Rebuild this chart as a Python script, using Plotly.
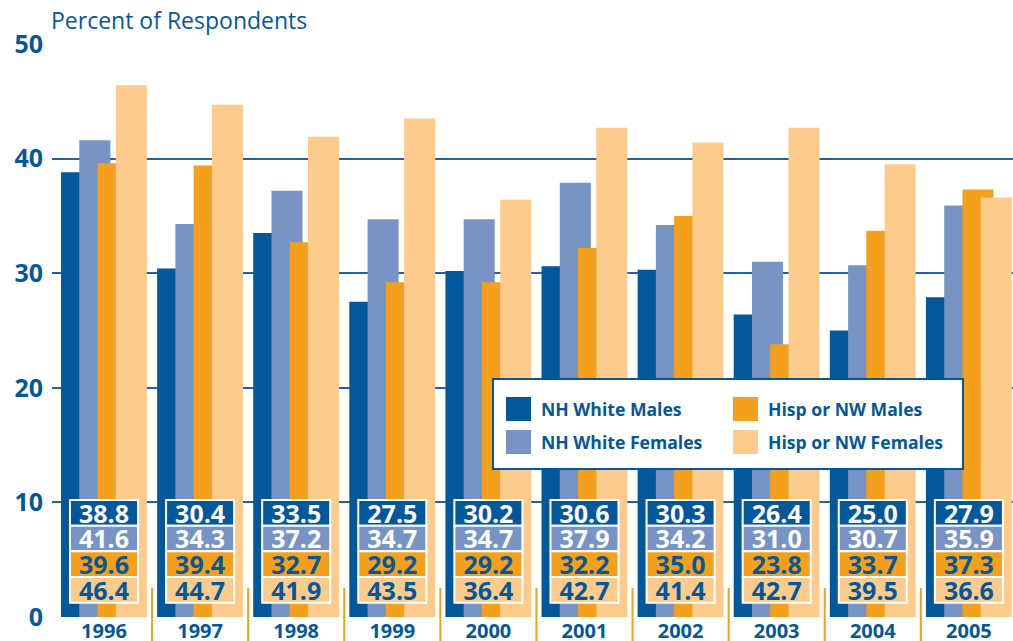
import plotly.graph_objects as go

years = [1996, 1997, 1998, 1999, 2000, 2001, 2002, 2003, 2004, 2005]
series_names = ["NH White Males", "NH White Females", "Hisp or NW Males", "Hisp or NW Females"]
nh_white_males = [38.8, 30.4, 33.5, 27.5, 30.2, 30.6, 30.3, 26.4, 25.0, 27.9]
nh_white_females = [41.6, 34.3, 37.2, 34.7, 34.7, 37.9, 34.2, 31.0, 30.7, 35.9]
hisp_nw_males = [39.6, 39.4, 32.7, 29.2, 29.2, 32.2, 35.0, 23.8, 33.7, 37.3]
hisp_nw_females = [46.4, 44.7, 41.9, 43.5, 36.4, 42.7, 41.4, 42.7, 39.5, 36.6]
y_ticks = [0, 10, 20, 30, 40, 50]

DARK = "#03579b"
GRID = "#1f63a5"
colors = [DARK, "#7794c4", "#f5a01d", "#fdcb8b"]
label_colors = ["white", "white", DARK, DARK]
series = [nh_white_males, nh_white_females, hisp_nw_males, hisp_nw_females]
FONT = "Open Sans"

W, H = 1013, 641
L, R, T, B = 52, 0, 44, 24
plot_w, plot_h = W - L - R, H - T - B


def px_x(p):
    return (p - L) / plot_w


def px_y(p):
    return (H - B - p) / plot_h


fig = go.Figure()

# overlapping bars, each series shifted right and drawn over the previous one
bar_w = 0.323
step = 0.19
start = -0.447
for k, (name, vals, col) in enumerate(zip(series_names, series, colors)):
    fig.add_bar(x=years, y=vals, name=name, marker_color=col, marker_line_width=0,
                width=bar_w, offset=start + k * step, showlegend=False)

# value table inside each group: stacked rows, top row = first series
row_h = 2.24
box_bottom = 1.25
box_w = 0.708
for k, (vals, col, tcol) in enumerate(zip(series, colors, label_colors)):
    base = box_bottom + (3 - k) * row_h
    fig.add_bar(x=years, y=[row_h] * len(years), base=base, width=box_w,
                marker=dict(color=col, line=dict(color="white", width=2)),
                text=[f"{v:.1f}" for v in vals], textposition="inside",
                insidetextanchor="middle", textangle=0, constraintext="none",
                textfont=dict(family=FONT, size=25, color=tcol, weight="bold"),
                showlegend=False, hoverinfo="skip")

# orange separators between year groups
for yr in years[:-1]:
    fig.add_shape(type="line", xref="x", yref="paper", x0=yr + 0.5, x1=yr + 0.5,
                  y0=px_y(H + 2), y1=px_y(588), line=dict(color="#f5a01d", width=2),
                  layer="above")

# legend box
fig.add_shape(type="rect", xref="paper", yref="paper",
              x0=px_x(493), x1=px_x(963), y0=px_y(469), y1=px_y(379),
              fillcolor="white", line=dict(color=DARK, width=2), layer="above")
for k, (name, col) in enumerate(zip(series_names, colors)):
    c, r = k // 2, k % 2
    sx = 506 + c * 227
    sy = 397 + r * 33
    fig.add_shape(type="rect", xref="paper", yref="paper",
                  x0=px_x(sx), x1=px_x(sx + 25), y0=px_y(sy + 24), y1=px_y(sy),
                  fillcolor=col, line=dict(width=0), layer="above")
    fig.add_annotation(text=name, xref="paper", yref="paper", x=px_x(sx + 33), y=px_y(sy + 12),
                       xanchor="left", yanchor="middle", showarrow=False,
                       font=dict(family=FONT, size=17.6, color=DARK, weight="bold"))

fig.add_annotation(text="Percent of Respondents", xref="paper", yref="paper",
                   x=0, y=px_y(20), xanchor="left", yanchor="middle", showarrow=False,
                   xshift=-3, font=dict(family=FONT, size=23, color=DARK))

fig.update_layout(
    width=W, height=H, margin=dict(l=L, r=R, t=T, b=B),
    barmode="overlay", showlegend=False,
    plot_bgcolor="white", paper_bgcolor="white",
    xaxis=dict(range=[1995.459, 2005.459], tickvals=years, ticktext=[str(y) for y in years],
               showgrid=False, zeroline=False, showline=False, ticks="", automargin=False,
               tickfont=dict(family=FONT, size=20, color=DARK, weight="bold")),
    yaxis=dict(range=[0, 50], tickvals=y_ticks, showgrid=True, gridcolor=GRID, gridwidth=2,
               zeroline=False, showline=False, ticks="", ticklabelstandoff=8, automargin=False,
               tickfont=dict(family=FONT, size=25, color=DARK, weight="bold")),
)

# drop the browser's default page margin so the figure sits at the window's corner
fig.write_html("out.html", config={"displayModeBar": False},
               post_script="document.body.style.margin='0';")
